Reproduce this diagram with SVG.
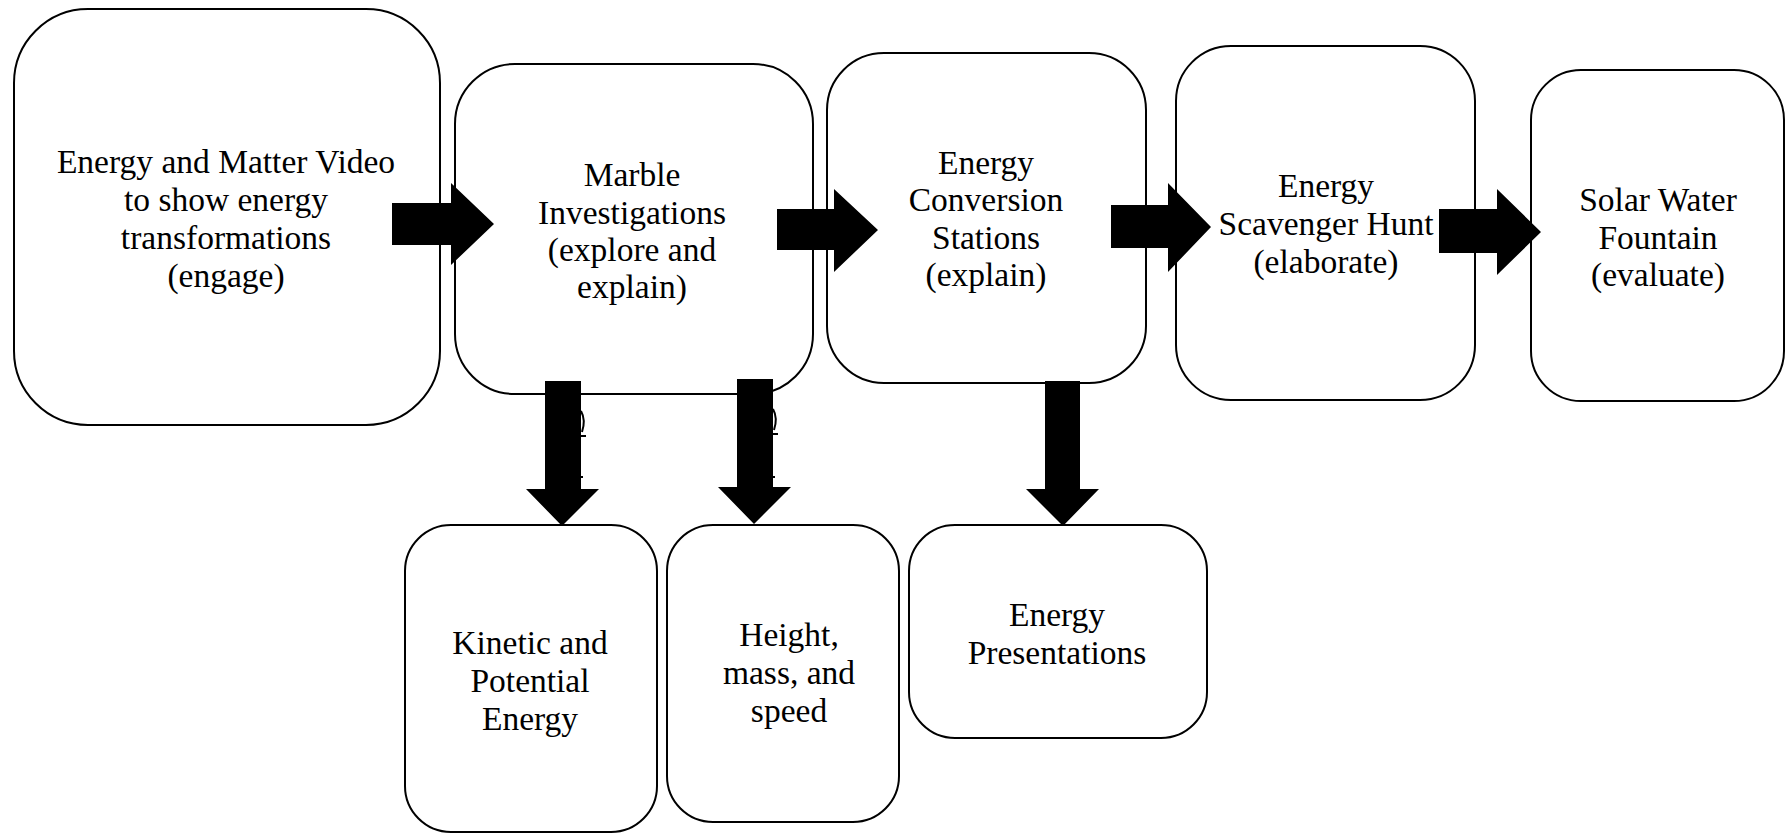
<svg xmlns="http://www.w3.org/2000/svg" width="1792" height="833" viewBox="0 0 1792 833">
<style>
.box{fill:#fff;stroke:#000;stroke-width:2}
.t{font-family:"Liberation Serif","Times New Roman",serif;font-size:33.5px;fill:#000;text-anchor:middle}
.arr{fill:#000;stroke:none}
.mk{fill:none;stroke:#000;stroke-width:2}
</style>
<rect width="1792" height="833" fill="#fff"/>
<g id="n1"><rect class="box" x="14" y="9" width="426" height="416" rx="74"/>
<text class="t"><tspan x="226" y="173">Energy and Matter Video</tspan><tspan x="226" y="211">to show energy</tspan><tspan x="226" y="249">transformations</tspan><tspan x="226" y="287">(engage)</tspan></text></g>
<g id="n2"><rect class="box" x="455" y="64" width="358" height="330" rx="60"/>
<text class="t"><tspan x="632" y="186">Marble</tspan><tspan x="632" y="224">Investigations</tspan><tspan x="632" y="261">(explore and</tspan><tspan x="632" y="298">explain)</tspan></text></g>
<g id="n3"><rect class="box" x="827" y="53" width="319" height="330" rx="57"/>
<text class="t"><tspan x="986" y="174">Energy</tspan><tspan x="986" y="211">Conversion</tspan><tspan x="986" y="249">Stations</tspan><tspan x="986" y="286">(explain)</tspan></text></g>
<g id="n4"><rect class="box" x="1176" y="46" width="299" height="354" rx="55"/>
<text class="t"><tspan x="1326" y="197">Energy</tspan><tspan x="1326" y="235">Scavenger Hunt</tspan><tspan x="1326" y="273">(elaborate)</tspan></text></g>
<g id="n5"><rect class="box" x="1531" y="70" width="253" height="331" rx="50"/>
<text class="t"><tspan x="1658" y="211">Solar Water</tspan><tspan x="1658" y="249">Fountain</tspan><tspan x="1658" y="286">(evaluate)</tspan></text></g>
<g id="n6"><rect class="box" x="405" y="525" width="252" height="307" rx="46"/>
<text class="t"><tspan x="530" y="654">Kinetic and</tspan><tspan x="530" y="692">Potential</tspan><tspan x="530" y="730">Energy</tspan></text></g>
<g id="n7"><rect class="box" x="667" y="525" width="232" height="297" rx="46"/>
<text class="t"><tspan x="789" y="646">Height,</tspan><tspan x="789" y="684">mass, and</tspan><tspan x="789" y="722">speed</tspan></text></g>
<g id="n8"><rect class="box" x="909" y="525" width="298" height="213" rx="46"/>
<text class="t"><tspan x="1057" y="626">Energy</tspan><tspan x="1057" y="664">Presentations</tspan></text></g>
<g id="connectors">
<polygon class="arr" points="392,203 451,203 451,183 494,224 451,265 451,245 392,245"/>
<polygon class="arr" points="777,209 834,209 834,189 878,230 834,272 834,250 777,250"/>
<polygon class="arr" points="1111,205 1168,205 1168,183 1211,227 1168,272 1168,248 1111,248"/>
<polygon class="arr" points="1439,209 1497,209 1497,189 1541,232 1497,275 1497,253 1439,253"/>
<polygon class="arr" points="545,381 581,381 581,489 599,489 562,526 526,489 545,489"/>
<polygon class="arr" points="737,379 773,379 773,487 791,487 754,524 718,487 737,487"/>
<polygon class="arr" points="1045,381 1080,381 1080,489 1099,489 1063,526 1026,489 1045,489"/>
<path class="mk" d="M581,411 Q586,420 582,432 M581,436 H586 M581,477 H583"/>
<path class="mk" d="M773,409 Q778,418 774,430 M773,434 H778 M773,477 H775"/>
</g>
</svg>
